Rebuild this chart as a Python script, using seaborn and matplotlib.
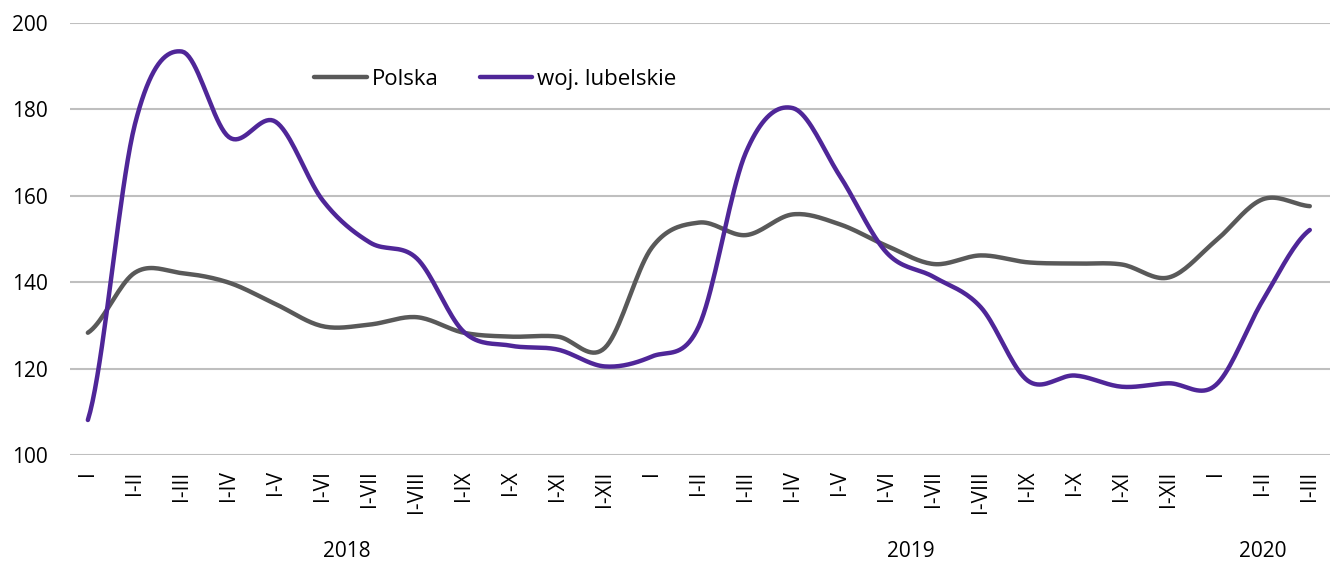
import numpy as np
import pandas as pd
import matplotlib
matplotlib.use("Agg")
import matplotlib.pyplot as plt
import matplotlib.transforms as mtransforms
import seaborn as sns

months = ['I', 'I-II', 'I-III', 'I-IV', 'I-V', 'I-VI', 'I-VII', 'I-VIII',
          'I-IX', 'I-X', 'I-XI', 'I-XII']
labels = months + months + months[:3]
years = ['2018', '2019', '2020']
year_len = [12, 12, 3]

polska = [128.3, 142.2, 142.1, 139.9, 134.9, 129.8, 130.2, 131.9, 128.3, 127.4,
          127.4, 124.8, 148.0, 153.8, 150.9, 155.7, 153.4, 148.4, 144.2, 146.2,
          144.6, 144.3, 144.1, 141.1, 149.6, 159.2, 157.6]
lubelskie = [108.1, 176.5, 193.4, 173.6, 177.1, 158.9, 149.2, 145.5, 128.5, 125.3,
             124.4, 120.5, 122.8, 129.8, 170.0, 180.3, 164.6, 146.8, 141.2, 134.2,
             117.2, 118.4, 115.8, 116.6, 116.2, 135.8, 152.1]


def smooth(y, n=20):
    # Catmull-Rom style bezier, like Excel's "smoothed line"
    y = np.asarray(y, float)
    p = np.concatenate([[y[0]], y, [y[-1]]])
    xs, ys = [], []
    t = np.linspace(0, 1, n, endpoint=False)
    for i in range(len(y) - 1):
        p0, p1, p2, p3 = p[i], p[i + 1], p[i + 2], p[i + 3]
        c1 = p1 + (p2 - p0) / 6
        c2 = p2 - (p3 - p1) / 6
        b = (1 - t) ** 3 * p1 + 3 * (1 - t) ** 2 * t * c1 + 3 * (1 - t) * t ** 2 * c2 + t ** 3 * p2
        xs.append(i + t)
        ys.append(b)
    xs.append([len(y) - 1])
    ys.append([y[-1]])
    return np.concatenate(xs), np.concatenate(ys)


sns.set_style("white", {'text.color': 'black', 'xtick.color': 'black',
                        'ytick.color': 'black'})
plt.rcParams['font.family'] = ['Open Sans', 'DejaVu Sans']
fs = 15

fig = plt.figure(figsize=(13.3, 5.63), dpi=100)
ax = fig.add_axes([70 / 1330, 1 - 455 / 563, 1 - 70 / 1330, 432 / 563])

for vals, name, col in [(polska, 'Polska', '#595959'),
                        (lubelskie, 'woj. lubelskie', '#4f2698')]:
    sx, sy = smooth(vals)
    df = pd.DataFrame({'x': sx, 'y': sy})
    sns.lineplot(data=df, x='x', y='y', color=col, lw=3.2, label=name, ax=ax,
                 sort=False, solid_capstyle='round')

ax.set_xlim(-0.38, 26.43)
ax.set_ylim(100, 200)
ax.set_yticks([100, 120, 140, 160, 180, 200])
ax.yaxis.grid(True, color='#bfbfbf', lw=1.5)
ax.set_axisbelow(True)
for s in ax.spines.values():
    s.set_visible(False)
ax.set_xlabel('')
ax.set_ylabel('')
ax.tick_params(axis='y', labelsize=fs, pad=16, length=0, labelcolor='black')
ax.set_xticks(range(len(labels)))
ax.set_xticklabels(labels, rotation=90, fontsize=fs, va='top', ha='center')
ax.tick_params(axis='x', length=0, pad=11, labelcolor='black')

trans = mtransforms.blended_transform_factory(ax.transData, ax.transAxes)
start = 0
for yr, n in zip(years, year_len):
    ax.text(start + (n - 1) / 2, -0.224, yr, transform=trans, ha='center',
            va='center', fontsize=fs, color='black')
    start += n

leg = ax.legend(loc='center left', bbox_to_anchor=(0.194, 0.87), ncol=2,
                frameon=False, fontsize=16, handlelength=2.35, handletextpad=0.22,
                columnspacing=1.85, borderaxespad=0, borderpad=0)
for t in leg.get_texts():
    t.set_color('black')

fig.savefig('out.png', dpi=100)
